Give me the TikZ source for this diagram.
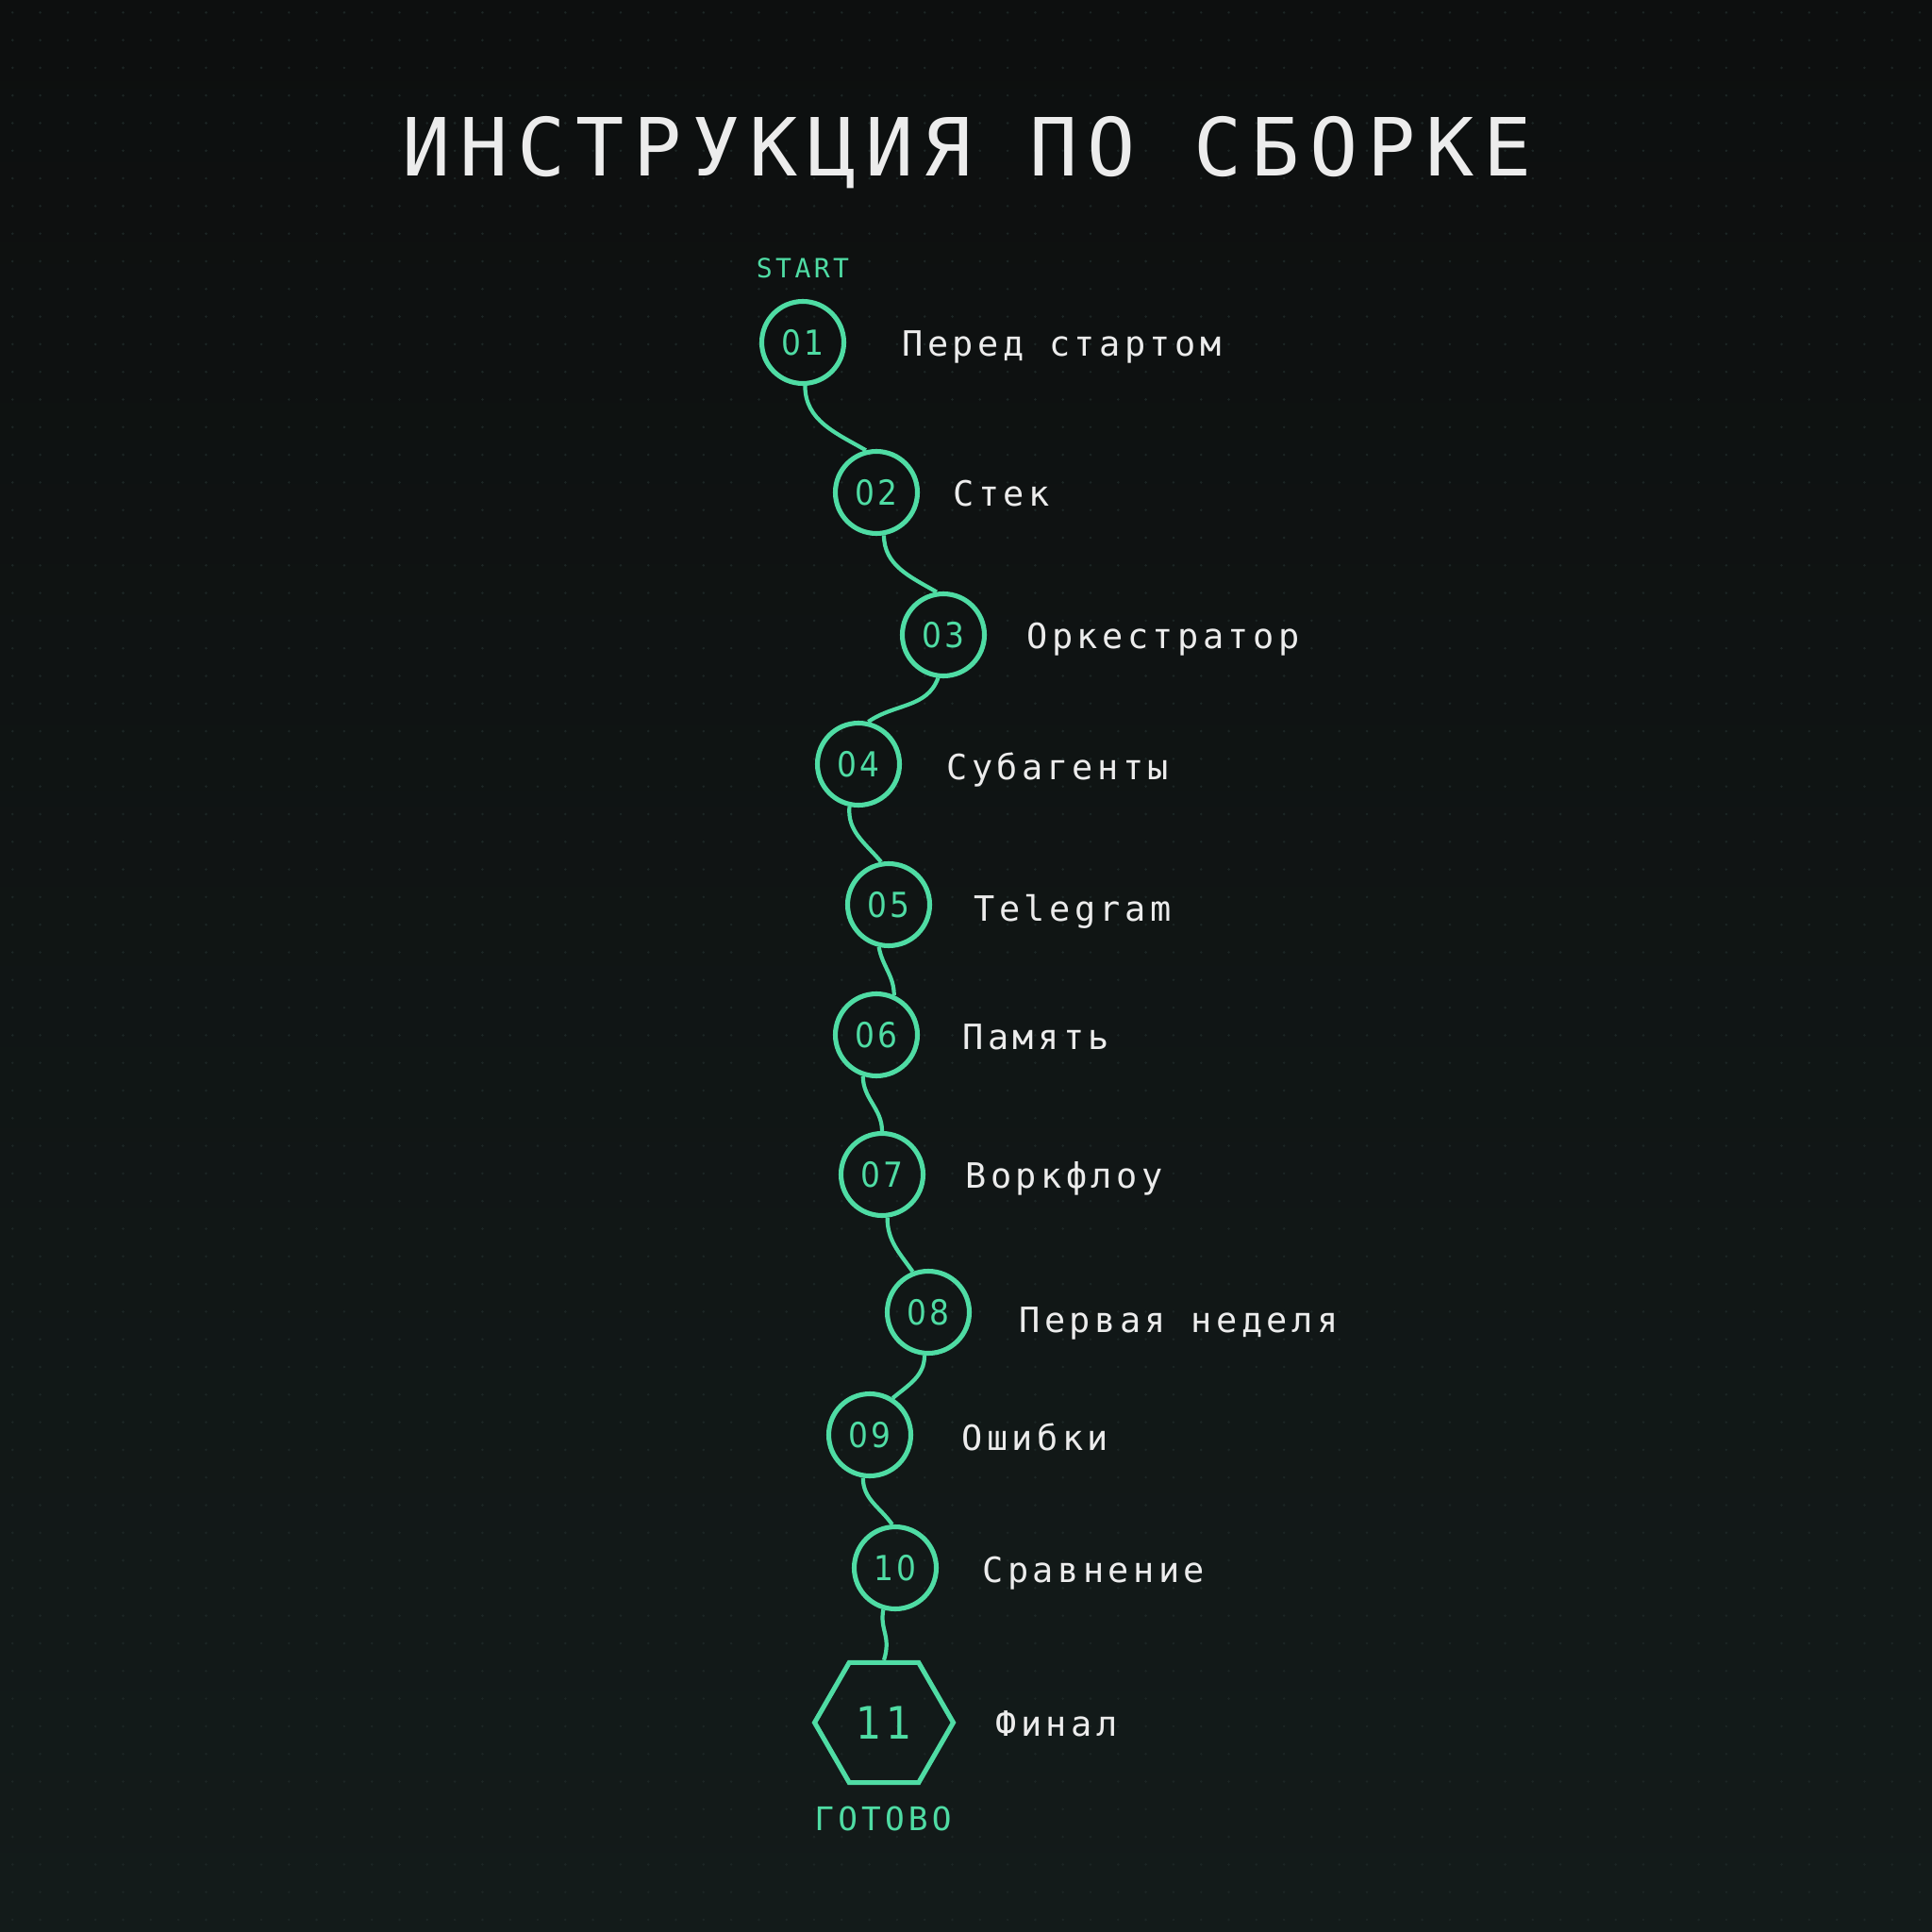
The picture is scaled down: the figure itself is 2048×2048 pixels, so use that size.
\documentclass[tikz,border=0pt]{standalone}
\usepackage{fontspec}
\setmainfont{DejaVu Sans Mono}
\newfontfamily\monofont{DejaVu Sans Mono}
\newfontfamily\widemono[LetterSpace=12]{DejaVu Sans Mono}
\newfontfamily\digitfont[LetterSpace=10]{DejaVu Sans Condensed}
\usetikzlibrary{shapes.geometric}
\definecolor{bgtop}{HTML}{0D0F0F}
\definecolor{bgbot}{HTML}{131B1A}
\definecolor{dotc}{HTML}{1C2625}
\definecolor{mint}{HTML}{4FDCA4}
\definecolor{chalk}{HTML}{ECECEC}

\begin{document}
\begin{tikzpicture}[x=0.1mm,y=-0.1mm,
  ring/.style={circle,draw=mint,line width=1.45pt,minimum size=8.7mm,inner sep=0pt,
    text=mint,font=\digitfont\fontsize{10.4}{10.4}\selectfont},
  hexa/.style={regular polygon,regular polygon sides=6,draw=mint,line width=1.45pt,
    minimum size=14.7mm,inner sep=0pt,text=mint,font=\digitfont\fontsize{13.5}{13.5}\selectfont},
  lbl/.style={anchor=base west,inner sep=0pt,text=chalk,font=\widemono\fontsize{10.5}{10.5}\selectfont},
  tag/.style={anchor=base,inner sep=0pt,text=mint},
  link/.style={draw=mint,line width=1.2pt}]
\useasboundingbox (0,0) rectangle (2048,2048);
\shade[top color=bgtop,bottom color=bgbot] (0,0) rectangle (2048,2048);
\foreach \i in {0,...,69}
  \foreach \j in {0,...,69}
    \fill[dotc] (13.3+29.3*\i,13.3+29.3*\j) circle (1.4);

\node[anchor=base,inner sep=0pt,text=chalk,font=\widemono\fontsize{24.2}{24.2}\selectfont]
  (title) at (1025,187) {ИНСТРУКЦИЯ ПО СБОРКЕ};

\node[tag,font=\widemono\fontsize{8}{8}\selectfont] (start) at (851,295) {START};
\node[ring] (n01) at (851,363) {01};
\node[ring] (n02) at (929,522) {02};
\node[ring] (n03) at (1000,673) {03};
\node[ring] (n04) at (910,810) {04};
\node[ring] (n05) at (942,959) {05};
\node[ring] (n06) at (929,1097) {06};
\node[ring] (n07) at (935,1245) {07};
\node[ring] (n08) at (984,1391) {08};
\node[ring] (n09) at (922,1521) {09};
\node[ring] (n10) at (949,1662) {10};
\node[hexa] (fin) at (937,1826) {11};
\node[tag,font=\widemono\fontsize{9.8}{9.8}\selectfont] (done) at (936,1940) {ГОТОВО};

\node[lbl] (l01) at (956,378) {Перед стартом};
\node[lbl] (l02) at (1010,536) {Стек};
\node[lbl] (l03) at (1088,687) {Оркестратор};
\node[lbl] (l04) at (1003,826) {Субагенты};
\node[lbl] (l05) at (1032,976) {Telegram};
\node[lbl] (l06) at (1020,1112) {Память};
\node[lbl] (l07) at (1023,1259) {Воркфлоу};
\node[lbl] (l08) at (1080,1412) {Первая неделя};
\node[lbl] (l09) at (1019,1537) {Ошибки};
\node[lbl] (l10) at (1041,1677) {Сравнение};
\node[lbl] (l11) at (1055,1840) {Финал};

\draw[link] (n01.-87) to[out=-90,in=150] (n02.104);
\draw[link] (n02.-80) to[out=-90,in=150] (n03.99);
\draw[link] (n03.-97) to[out=-110,in=35] (n04.77);
\draw[link] (n04.-102) to[out=-95,in=130] (n05.100);
\draw[link] (n05.-103) to[out=-80,in=90] (n06.66);
\draw[link] (n06.-108) to[out=-90,in=90] (n07.90);
\draw[link] (n07.-83) to[out=-90,in=125] (n08.111);
\draw[link] (n08.-95) to[out=-90,in=40] (n09.58);
\draw[link] (n09.-99) to[out=-90,in=125] (n10.94);
\draw[link] (n10.-106) .. controls +(-4,22) and +(8,-26) .. (fin.north);
\end{tikzpicture}
\end{document}
